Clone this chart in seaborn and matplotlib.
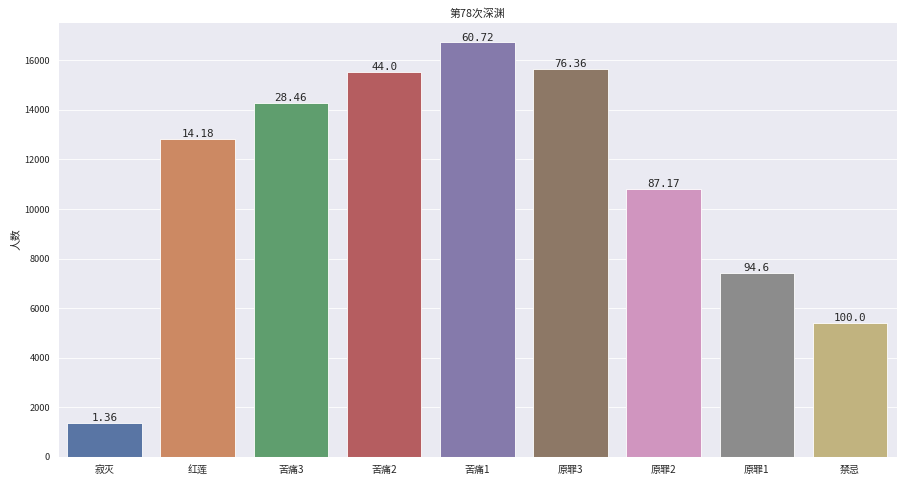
import matplotlib
matplotlib.use("Agg")
import matplotlib.pyplot as plt
import seaborn as sns
import pandas as pd

# 各段位人数
levels = ["寂灭", "红莲", "苦痛3", "苦痛2", "苦痛1", "原罪3", "原罪2", "原罪1", "禁忌"]
counts = [1360, 12820, 14280, 15540, 16720, 15640, 10810, 7430, 5400]
cum_pct = ["1.36", "14.18", "28.46", "44.0", "60.72", "76.36", "87.17", "94.6", "100.0"]

sns.set_theme(style="darkgrid", palette="deep")
plt.rcParams['font.family'] = ['Noto Sans CJK SC', 'DejaVu Sans']
plt.rcParams['axes.unicode_minus'] = False

df = pd.DataFrame({"level": levels, "count": counts})

fig, ax = plt.subplots(figsize=(15.05, 8.067), dpi=60)
sns.barplot(data=df, x="level", y="count", hue="level", palette="deep", legend=False, ax=ax)

for i, (c, p) in enumerate(zip(counts, cum_pct)):
    ax.text(i, c, p, ha="center", va="bottom", fontsize=13,
            family=['DejaVu Sans Mono', 'Noto Sans CJK SC'], color="#262626")

ax.set_title("第78次深渊", fontsize=13)
ax.set_xlabel("")
ax.set_ylabel("人数", fontsize=13)
ax.tick_params(labelsize=11)
ax.tick_params(axis="x", labelsize=12)
plt.subplots_adjust(left=0.064, right=0.993, top=0.955, bottom=0.056)
fig.savefig("out.png", dpi=60)
